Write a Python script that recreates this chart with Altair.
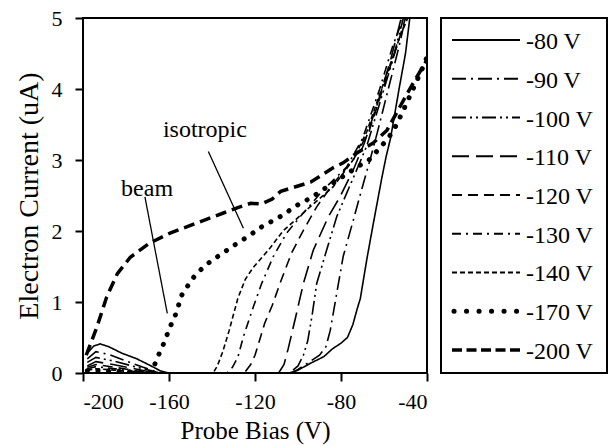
import altair as alt
import pandas as pd

# ---------------- data ----------------
series = ["-80 V", "-90 V", "-100 V", "-110 V", "-120 V", "-130 V", "-140 V", "-170 V", "-200 V"]

v80 = [-198, -195, -192, -188, -182, -175, -169, -164, -160, -104, -100, -94, -88, -84, -80, -77, -74.5, -72.5, -71, -68, -65, -61, -59, -57, -53, -50, -48]
i80 = [0.28, 0.38, 0.41, 0.37, 0.28, 0.2, 0.11, 0.03, 0, 0, 0.04, 0.14, 0.23, 0.34, 0.42, 0.5, 0.68, 0.9, 1.05, 1.6, 2.1, 2.75, 3.05, 3.3, 4.0, 4.5, 5.0]

v90 = [-198, -194, -188, -180, -172, -166, -163, -103, -100, -95, -90, -87, -85, -82, -79, -74.3, -69.6, -66.5, -63, -58, -53, -50]
i90 = [0.2, 0.3, 0.26, 0.17, 0.08, 0.02, 0, 0, 0.05, 0.15, 0.25, 0.37, 0.6, 1.12, 1.64, 2.15, 2.67, 3.0, 3.4, 4.0, 4.6, 5.0]

v100 = [-198, -194, -186, -176, -168, -164, -104, -100, -97.5, -95.5, -93.5, -91.3, -86.7, -82, -77.4, -72.7, -68, -62, -56, -51]
i100 = [0.15, 0.22, 0.17, 0.09, 0.03, 0, 0, 0.1, 0.25, 0.45, 0.8, 1.26, 1.73, 2.2, 2.53, 2.86, 3.2, 3.8, 4.4, 5.0]

v110 = [-198, -194, -186, -176, -168, -165, -109, -106.5, -104.5, -101, -97.5, -92.9, -85.9, -80.5, -74.3, -69, -63, -57, -52]
i110 = [0.1, 0.16, 0.12, 0.06, 0.01, 0, 0, 0.12, 0.35, 0.8, 1.26, 1.73, 2.2, 2.48, 2.86, 3.25, 3.8, 4.4, 5.0]

v120 = [-198, -194, -185, -175, -168, -125, -122, -120, -118.5, -115.5, -112, -108.4, -103, -97.5, -91.3, -83.6, -74.3, -67, -60, -54, -50]
i120 = [0.08, 0.12, 0.08, 0.03, 0, 0, 0.12, 0.25, 0.4, 0.7, 0.95, 1.26, 1.69, 2.01, 2.34, 2.67, 3.0, 3.4, 4.05, 4.6, 5.0]

v130 = [-198, -194, -185, -176, -170, -133, -130.5, -128, -125.4, -120.8, -116.9, -111.5, -105.3, -99, -88.2, -77.4, -70, -62, -56, -51]
i130 = [0.06, 0.09, 0.06, 0.02, 0, 0, 0.08, 0.22, 0.51, 0.93, 1.26, 1.64, 1.97, 2.2, 2.58, 2.9, 3.3, 4.0, 4.6, 5.0]

v140 = [-198, -194, -185, -176, -170, -139.5, -137.5, -135, -132, -128, -124.5, -121, -117, -113, -107, -94.4, -83.7, -74.4, -68, -60, -53, -49]
i140 = [0.04, 0.06, 0.04, 0.01, 0, 0, 0.1, 0.3, 0.6, 1.05, 1.32, 1.48, 1.62, 1.76, 2.0, 2.34, 2.62, 3.0, 3.4, 4.1, 4.7, 5.0]

v170 = [-198, -190, -180, -172, -168, -165.6, -163.3, -161.4, -159.5, -157.2, -154, -151, -148, -144, -140, -135.3, -130.7, -126, -122.3, -118, -108.4, -100, -94.4, -86.5, -80.5, -72.6, -67, -61, -55.8, -51, -46.5, -42, -40]
i170 = [0.03, 0.03, 0.02, 0.01, 0, 0.21, 0.35, 0.5, 0.65, 0.8, 1.1, 1.24, 1.37, 1.49, 1.59, 1.68, 1.78, 1.87, 1.94, 2.04, 2.2, 2.37, 2.46, 2.62, 2.74, 2.9, 3.0, 3.2, 3.4, 3.7, 4.0, 4.3, 4.45]

v200 = [-198.5, -196, -193.5, -189, -184, -178, -169, -159.5, -145.6, -135, -128, -122, -117, -112, -108, -94, -83.7, -79, -72.6, -65, -58.6, -52.6, -46.5, -40]
i200 = [0.25, 0.45, 0.65, 1.07, 1.4, 1.63, 1.83, 1.97, 2.13, 2.25, 2.33, 2.39, 2.38, 2.45, 2.56, 2.69, 2.89, 2.96, 3.1, 3.24, 3.42, 3.75, 4.08, 4.41]

x_ticks = [-200, -160, -120, -80, -40]
y_ticks = [0, 1, 2, 3, 4, 5]

note_text = ["isotropic", "beam"]
note_x = [-143.3, -170.2]
note_y = [3.32, 2.5]
pointer_x = [-141.7, -171.2]
pointer_y = [3.12, 2.48]
pointer_x2 = [-125.4, -160.8]
pointer_y2 = [2.04, 0.84]

# ---------------- tables ----------------
all_v = [v80, v90, v100, v110, v120, v130, v140, v170, v200]
all_i = [i80, i90, i100, i110, i120, i130, i140, i170, i200]
rows = []
for name, vs, cs in zip(series, all_v, all_i):
    for k, (v, c) in enumerate(zip(vs, cs)):
        rows.append({"series": name, "bias": v, "current": c, "order": k})
df = pd.DataFrame(rows)

notes = pd.DataFrame({"text": note_text, "x": note_x, "y": note_y})
pointers = pd.DataFrame({"x": pointer_x, "y": pointer_y, "x2": pointer_x2, "y2": pointer_y2})
leg = pd.DataFrame({"series": series, "idx": list(range(len(series)))})

thin = series[:7]
thin_dash = [[1, 0], [14, 5, 2, 5], [14, 4, 2, 4, 2, 4], [17, 7], [10, 6], [9, 5, 2, 5], [5, 3]]

FONT = "Liberation Serif"
hyphen_expr = "datum.value < 0 ? '-' + toString(-datum.value) : toString(datum.value)"

xs = alt.Scale(domain=[-200, -40], nice=False)
ys = alt.Scale(domain=[0, 5], nice=False)
x_enc = alt.X("bias:Q", scale=xs, axis=alt.Axis(values=x_ticks, title="Probe Bias (V)",
                                                 labelExpr=hyphen_expr,
                                                 labelPadding=10, titlePadding=6,
                                                 titleFontSize=25))
y_enc = alt.Y("current:Q", scale=ys, axis=alt.Axis(values=y_ticks, title="Electron Current (uA)",
                                                    labelExpr=hyphen_expr,
                                                    labelPadding=13, titlePadding=8,
                                                    titleFontSize=28))

base = alt.Chart(df)
thin_lines = base.transform_filter(
    alt.FieldOneOfPredicate(field="series", oneOf=thin)
).mark_line(color="black", strokeWidth=1.6, clip=True).encode(
    x=x_enc, y=y_enc, order="order:Q", detail="series:N",
    strokeDash=alt.StrokeDash("series:N", scale=alt.Scale(domain=thin, range=thin_dash), legend=None),
)
dot_line = base.transform_filter(alt.datum.series == "-170 V").mark_line(
    color="black", strokeWidth=5, strokeCap="round", strokeDash=[0.1, 10.5], clip=True
).encode(x="bias:Q", y="current:Q", order="order:Q")
heavy_line = base.transform_filter(alt.datum.series == "-200 V").mark_line(
    color="black", strokeWidth=3.5, strokeDash=[11, 6], clip=True
).encode(x="bias:Q", y="current:Q", order="order:Q")

note_marks = alt.Chart(notes).mark_text(font=FONT, fontSize=24, color="black",
                                         align="center", baseline="alphabetic").encode(
    x="x:Q", y="y:Q", text="text:N")
pointer_marks = alt.Chart(pointers).mark_rule(color="black", strokeWidth=1.3).encode(
    x="x:Q", y="y:Q", x2="x2:Q", y2="y2:Q")

main = alt.layer(thin_lines, dot_line, heavy_line, pointer_marks, note_marks).properties(
    width=344, height=355)

# ---------------- legend panel ----------------
ly = alt.Y("idx:Q", scale=alt.Scale(domain=[-0.568, 8.594], reverse=True, nice=False, zero=False), axis=None)
lbase = alt.Chart(leg)
leg_thin = lbase.transform_filter(
    alt.FieldOneOfPredicate(field="series", oneOf=thin)
).mark_rule(color="black", strokeWidth=2).encode(
    y=ly, x=alt.value(11), x2=alt.value(79),
    strokeDash=alt.StrokeDash("series:N", scale=alt.Scale(domain=thin, range=thin_dash), legend=None),
)
leg_dot = lbase.transform_filter(alt.datum.series == "-170 V").mark_rule(
    color="black", strokeWidth=5, strokeCap="round", strokeDash=[0.1, 12.4]
).encode(y=ly, x=alt.value(13), x2=alt.value(79))
leg_heavy = lbase.transform_filter(alt.datum.series == "-200 V").mark_rule(
    color="black", strokeWidth=3.5, strokeDash=[10, 4.5]
).encode(y=ly, x=alt.value(11), x2=alt.value(79))
leg_text = lbase.mark_text(font=FONT, fontSize=24, color="black", align="left",
                           baseline="middle", dy=2).encode(
    y=ly, x=alt.value(85), text="series:N")

legend_panel = alt.layer(leg_thin, leg_dot, leg_heavy, leg_text).properties(width=166, height=355)

chart = alt.hconcat(main, legend_panel, spacing=14, bounds="flush").properties(
    autosize=alt.AutoSizeParams(type="none"),
    padding={"left": 83, "top": 18, "right": 526, "bottom": 428},
    background="white",
).configure_view(
    stroke="black", strokeWidth=2
).configure_axis(
    labelFont=FONT, titleFont=FONT, labelFontSize=22, titleFontWeight="normal",
    labelColor="black", titleColor="black", tickColor="black", tickSize=8, tickWidth=2,
    domain=False, grid=False,
)

chart.save("out.html", embed_options={"renderer": "svg", "actions": False})
